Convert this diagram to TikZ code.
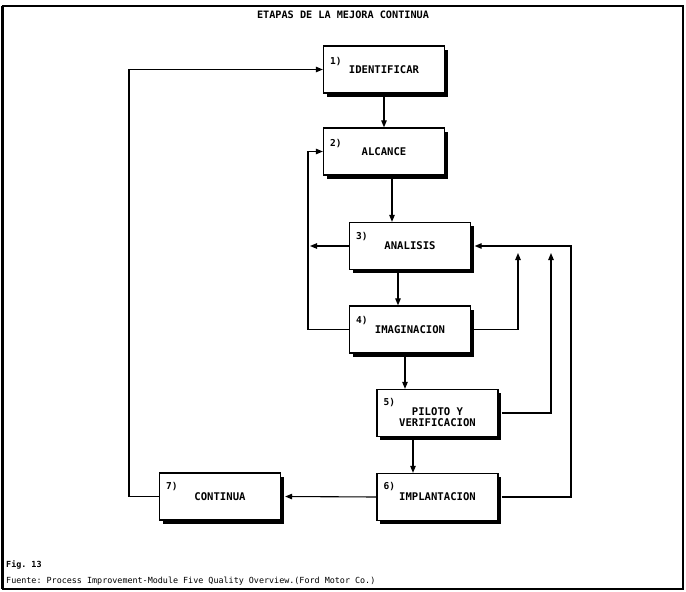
\documentclass[tikz,border=0pt]{standalone}
\usepackage{fontspec}
\setmonofont{DejaVu Sans Mono}
\usetikzlibrary{arrows.meta,calc,shadows}
\begin{document}
\begin{tikzpicture}[x=1pt,y=-1pt,
  stepbox/.style={draw=black, line width=1.3pt, fill=white, minimum width=121pt, minimum height=47pt,
    inner sep=0pt, font=\ttfamily\bfseries\fontsize{10.6}{12}\selectfont, align=center,
    drop shadow={shadow xshift=3pt, shadow yshift=-3.5pt, fill=black, opacity=1}},
  numlbl/.style={anchor=west, inner sep=0pt, font=\ttfamily\bfseries\fontsize{9.5}{10}\selectfont},
  arr/.style={line width=1.1pt, -{Triangle[length=7pt,width=5.5pt]}}]
\useasboundingbox (0,0) rectangle (686,592);
\fill[white] (0,0) rectangle (686,592);
\draw[line width=1.2pt] (3,6) rectangle (683,589);
\draw[line width=0.6pt] (1,6) -- (1,589);

\node[font=\ttfamily\bfseries\fontsize{10.2}{11}\selectfont, inner sep=0pt] (title) at (343,15) {ETAPAS DE LA MEJORA CONTINUA};

\node[stepbox] (b1) at (384,69.5) {IDENTIFICAR};
\node[stepbox] (b2) at (384,151.5) {ALCANCE};
\node[stepbox] (b3) at (410,246) {ANALISIS};
\node[stepbox] (b4) at (410,329.5) {IMAGINACION};
\node[stepbox, text depth=0pt] (b5) at (437.5,413) {\raisebox{-9pt}{\shortstack{PILOTO Y\\VERIFICACION}}};
\node[stepbox] (b6) at (437.5,497) {IMPLANTACION};
\node[stepbox] (b7) at (220,496.5) {CONTINUA};

\node[numlbl] (n1) at ($(b1.north west)+(7,16)$) {1)};
\node[numlbl] (n2) at ($(b2.north west)+(7,16)$) {2)};
\node[numlbl] (n3) at ($(b3.north west)+(7,15)$) {3)};
\node[numlbl] (n4) at ($(b4.north west)+(7,15)$) {4)};
\node[numlbl] (n5) at ($(b5.north west)+(7,14)$) {5)};
\node[numlbl] (n6) at ($(b6.north west)+(7,14)$) {6)};
\node[numlbl] (n7) at ($(b7.north west)+(7,14)$) {7)};

% vertical flow
\draw[arr] (b1.south) -- (b2.north);
\draw[arr] ([xshift=8pt]b2.south) -- ([xshift=8pt]b2.south |- b3.north);
\draw[arr] ([xshift=-12pt]b3.south) -- ([xshift=-12pt]b3.south |- b4.north);
\draw[arr] ([xshift=-5pt]b4.south) -- ([xshift=-5pt]b4.south |- b5.north);
\draw[arr] ([xshift=-24.5pt]b5.south) -- ([xshift=-24.5pt]b5.south |- b6.north);
\draw[arr] (b6.west) -- ([xshift=4pt]b7.east);

% feedback loops
\coordinate (cl) at (129,300);
\draw[arr] (b7.west) -| (cl) |- (b1.west);
\coordinate (cl2) at (308,240);
\draw[arr] (b4.west) -| (cl2) |- (b2.west);
\coordinate (a3) at (310,246);
\draw[arr] (b3.west) -- (a3);
\coordinate (u4) at (518,253);
\draw[arr] ([xshift=3pt]b4.east) -| (u4);
\coordinate (u5) at (551,253);
\draw[arr] ([xshift=3pt]b5.east) -| (u5);
\coordinate (r6) at (571,300);
\draw[arr] ([xshift=3pt]b6.east) -| (r6) |- ([xshift=3.5pt]b3.east);

\node[anchor=west, inner sep=0pt, font=\ttfamily\bfseries\fontsize{8.4}{9}\selectfont] (fig) at (6,565) {Fig. 13};
\node[anchor=west, inner sep=0pt, font=\ttfamily\fontsize{8.4}{9}\selectfont] (src) at (6,581) {Fuente: Process Improvement-Module Five Quality Overview.(Ford Motor Co.)};
\end{tikzpicture}
\end{document}
